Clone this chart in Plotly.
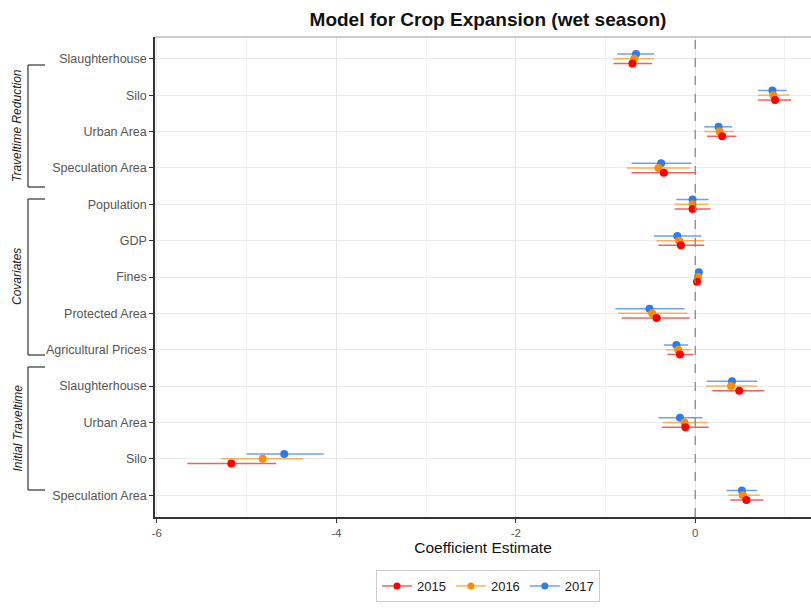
import plotly.graph_objects as go

terms = ["Slaughterhouse", "Silo", "Urban Area", "Speculation Area",
         "Population", "GDP", "Fines", "Protected Area", "Agricultural Prices",
         "Slaughterhouse", "Urban Area", "Silo", "Speculation Area"]
groups = ["Traveltime Reduction", "Covariates", "Initial Traveltime"]

est_2015 = [-0.70, 0.89, 0.30, -0.35, -0.03, -0.16, 0.02, -0.43, -0.17, 0.49, -0.11, -5.17, 0.57]
lo_2015 = [-0.91, 0.70, 0.13, -0.71, -0.23, -0.41, 0.00, -0.82, -0.31, 0.19, -0.37, -5.66, 0.39]
hi_2015 = [-0.48, 1.07, 0.46, 0.01, 0.17, 0.10, 0.04, -0.06, -0.02, 0.77, 0.15, -4.67, 0.76]

est_2016 = [-0.68, 0.87, 0.27, -0.41, -0.03, -0.18, 0.03, -0.48, -0.19, 0.40, -0.12, -4.82, 0.53]
lo_2016 = [-0.91, 0.70, 0.10, -0.76, -0.23, -0.43, 0.01, -0.86, -0.33, 0.12, -0.36, -5.28, 0.37]
hi_2016 = [-0.46, 1.05, 0.43, -0.06, 0.15, 0.10, 0.05, -0.09, -0.05, 0.69, 0.14, -4.37, 0.72]

est_2017 = [-0.66, 0.86, 0.26, -0.38, -0.03, -0.20, 0.04, -0.51, -0.21, 0.41, -0.17, -4.58, 0.52]
lo_2017 = [-0.87, 0.70, 0.10, -0.71, -0.21, -0.46, 0.02, -0.89, -0.35, 0.13, -0.41, -5.00, 0.35]
hi_2017 = [-0.46, 1.02, 0.41, -0.04, 0.15, 0.07, 0.06, -0.12, -0.08, 0.69, 0.08, -4.14, 0.69]

years = ["2015", "2016", "2017"]
colors = {"2015": "#FF0000", "2016": "#FF8C00", "2017": "#2F7BEA"}
err_colors = {"2015": "rgba(235,60,50,0.8)", "2016": "rgba(255,160,40,0.8)", "2017": "rgba(70,140,240,0.8)"}
offsets = {"2015": 0.13, "2016": 0.0, "2017": -0.13}
data = {
    "2015": (est_2015, lo_2015, hi_2015),
    "2016": (est_2016, lo_2016, hi_2016),
    "2017": (est_2017, lo_2017, hi_2017),
}

fig = go.Figure()
ypos = list(range(len(terms)))

for yr in ["2017", "2016", "2015"]:
    est, lo, hi = data[yr]
    fig.add_trace(go.Scatter(
        x=est, y=[p + offsets[yr] for p in ypos], mode="markers",
        marker=dict(color=colors[yr], size=8),
        error_x=dict(type="data", symmetric=False,
                     array=[h - e for h, e in zip(hi, est)],
                     arrayminus=[e - l for e, l in zip(est, lo)],
                     color=err_colors[yr], thickness=1.5, width=0),
        showlegend=False, hoverinfo="x"))

for yr in years:
    fig.add_trace(go.Scatter(x=[None], y=[None], mode="lines+markers", name=yr,
                             line=dict(color=err_colors[yr], width=1.5),
                             marker=dict(color=colors[yr], size=7)))

L, R, T, B = 155, 0, 37, 91
W, H = 811, 608
pw, ph = W - L - R, H - T - B

def px2paper_x(px):
    return (px - L) / pw

def px2paper_y(py):
    return (H - B - py) / ph

shapes = []
# zero line
shapes.append(dict(type="line", xref="x", yref="paper", x0=0, x1=0, y0=0, y1=1,
                   line=dict(color="#888888", width=1.3, dash="dash")))
# top border
shapes.append(dict(type="line", xref="paper", yref="paper", x0=0, x1=1, y0=1, y1=1,
                   line=dict(color="#9a9a9a", width=1.2)))
# brackets
brackets = [(65, 187), (199, 355), (367, 490)]
bx0, bx1 = px2paper_x(28), px2paper_x(45)
for (ya, yb) in brackets:
    y0, y1 = px2paper_y(ya), px2paper_y(yb)
    for seg in [(bx0, y0, bx1, y0), (bx0, y0, bx0, y1), (bx0, y1, bx1, y1)]:
        shapes.append(dict(type="line", xref="paper", yref="paper",
                           x0=seg[0], y0=seg[1], x1=seg[2], y1=seg[3],
                           line=dict(color="#333333", width=1.2)))

annotations = []
for g, (ya, yb) in zip(groups, brackets):
    annotations.append(dict(text="<i>" + g + "</i>", xref="paper", yref="paper",
                            x=px2paper_x(17), y=px2paper_y((ya + yb) / 2),
                            xanchor="center", yanchor="middle",
                            textangle=-90, showarrow=False,
                            font=dict(size=12, color="#1a1a1a")))

fig.update_layout(
    width=W, height=H,
    margin=dict(l=L, r=R, t=T, b=B, autoexpand=False),
    paper_bgcolor="white", plot_bgcolor="white",
    font=dict(family="Liberation Sans, Arial, sans-serif", color="#4d4d4d"),
    title=dict(text="<b>Model for Crop Expansion (wet season)</b>",
               x=px2paper_x(488), xref="paper", xanchor="center",
               y=1 - 19 / H, yanchor="middle",
               font=dict(size=19, color="#111111")),
    xaxis=dict(range=[-6.02, 1.29], tickvals=[-6, -4, -2, 0],
               ticktext=["-6", "-4", "-2", "0"], automargin=False,
               showgrid=True, gridcolor="#e6e6e6", gridwidth=1,
               minor=dict(tickvals=[-5, -3, -1, 1], showgrid=True, gridcolor="#f3f3f3", gridwidth=1),
               zeroline=False, showline=True, linecolor="#333333", linewidth=1.5,
               ticks="outside", ticklen=4, tickcolor="#333333",
               tickfont=dict(size=11.5, color="#555555"),
               title=dict(text="Coefficient Estimate", font=dict(size=15.5, color="#111111"), standoff=5)),
    yaxis=dict(range=[12.6, -0.6], tickvals=ypos, ticktext=terms, automargin=False,
               showgrid=True, gridcolor="#ebebeb", gridwidth=1,
               zeroline=False, showline=True, linecolor="#333333", linewidth=1.5,
               ticks="outside", ticklen=4, tickcolor="#333333",
               tickfont=dict(size=12.5, color="#555555")),
    legend=dict(orientation="h", x=px2paper_x(488), xanchor="center",
                y=px2paper_y(570), yanchor="top",
                bordercolor="#cccccc", borderwidth=1,
                font=dict(size=13, color="#1a1a1a"), itemwidth=30),
    shapes=shapes, annotations=annotations,
)

fig.write_html("out.html", config={"displayModeBar": False},
               post_script="document.body.style.margin='0';document.body.style.overflow='hidden';")
